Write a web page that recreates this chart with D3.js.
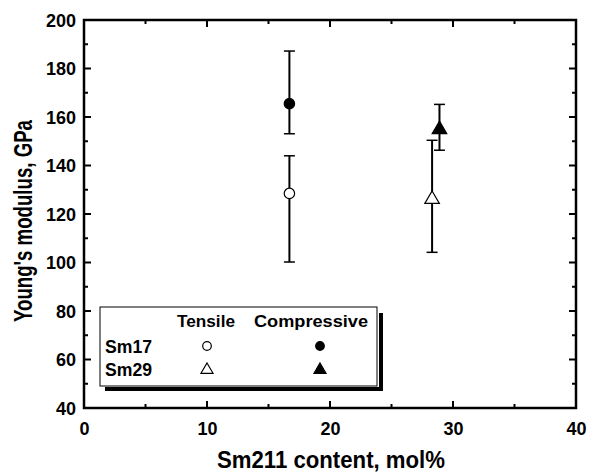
<!DOCTYPE html>
<html><head><meta charset="utf-8">
<script src="https://cdn.jsdelivr.net/npm/d3@7"></script>
<style>body{margin:0;background:#fff}text{font-family:"Liberation Sans",Arial,sans-serif;font-weight:bold;fill:#000}</style>
</head><body><svg id="c" width="601" height="476"></svg>
<script>
const xTicks = [0,10,20,30,40];
const yTicks = [40,60,80,100,120,140,160,180,200];
const seriesNames = ["Sm17 tensile","Sm17 compressive","Sm29 tensile","Sm29 compressive"];
const xVals = [16.7,16.7,28.3,28.9];
const yVals = [128.5,165.5,126.5,155.3];
const yLow = [100.2,153.1,104.2,146.3];
const yHigh = [144,187.2,150.4,165.2];
const shapes = ["circle","circle","triangle","triangle"];
const filled = [false,true,false,true];
const legendRows = ["Sm17","Sm29"];
const legendCols = ["Tensile","Compressive"];

const svg = d3.select("#c");
const L=84,R=576,T=20,B=408;
const x = d3.scaleLinear().domain([0,40]).range([L,R]);
const y = d3.scaleLinear().domain([40,200]).range([B,T]);

const g = svg.append("g");
const xMinor = d3.range(0,40.01,5), yMinor = d3.range(40,200.01,10);
xMinor.forEach(v=>{
  const len = (v%10===0)?7:4;
  g.append("line").attr("x1",x(v)).attr("x2",x(v)).attr("y1",B).attr("y2",B-len).attr("stroke","#000").attr("stroke-width",2);
  g.append("line").attr("x1",x(v)).attr("x2",x(v)).attr("y1",T).attr("y2",T+len).attr("stroke","#000").attr("stroke-width",2);
});
yMinor.forEach(v=>{
  const len = (v%20===0)?7:4;
  g.append("line").attr("y1",y(v)).attr("y2",y(v)).attr("x1",L).attr("x2",L+len).attr("stroke","#000").attr("stroke-width",2);
  g.append("line").attr("y1",y(v)).attr("y2",y(v)).attr("x1",R).attr("x2",R-len).attr("stroke","#000").attr("stroke-width",2);
});
g.append("rect").attr("x",L).attr("y",T).attr("width",R-L).attr("height",B-T).attr("fill","none").attr("stroke","#000").attr("stroke-width",2.5);

const xa = svg.append("g").attr("transform",`translate(0,${B})`).call(d3.axisBottom(x).tickValues(xTicks).tickSize(0).tickPadding(27));
xa.select(".domain").remove();
xa.selectAll("text").attr("font-size",18).attr("font-family","Liberation Sans, Arial").attr("font-weight","bold").attr("dy","0");
const ya = svg.append("g").attr("transform",`translate(${L},0)`).call(d3.axisLeft(y).tickValues(yTicks).tickSize(0).tickPadding(8));
ya.select(".domain").remove();
ya.selectAll("text").attr("font-size",18).attr("font-family","Liberation Sans, Arial").attr("font-weight","bold").attr("dy","0.36em");

svg.append("text").attr("x",331).attr("y",468).attr("text-anchor","middle").attr("font-size",23)
  .attr("textLength",228).attr("lengthAdjust","spacingAndGlyphs").text("Sm211 content, mol%");
svg.append("text").attr("transform",`translate(32,221) rotate(-90)`).attr("text-anchor","middle").attr("font-size",25)
  .attr("textLength",202).attr("lengthAdjust","spacingAndGlyphs").text("Young's modulus, GPa");

const cap = 5.5;
seriesNames.forEach((n,i)=>{
  const cx = x(xVals[i]);
  svg.append("line").attr("x1",cx).attr("x2",cx).attr("y1",y(yLow[i])).attr("y2",y(yHigh[i])).attr("stroke","#000").attr("stroke-width",2);
  [yLow[i],yHigh[i]].forEach(v=>svg.append("line").attr("x1",cx-cap).attr("x2",cx+cap).attr("y1",y(v)).attr("y2",y(v)).attr("stroke","#000").attr("stroke-width",1.5));
});
function marker(sel,shape,fill,cx,cy,s){
  if(shape==="circle") sel.append("circle").attr("cx",cx).attr("cy",cy).attr("r",s).attr("fill",fill?"#000":"#fff").attr("stroke","#000").attr("stroke-width",1.2);
  else sel.append("path").attr("d",`M${cx},${cy-s*1.4}L${cx+s*1.4},${cy+s*1.0}L${cx-s*1.4},${cy+s*1.0}Z`).attr("fill",fill?"#000":"#fff").attr("stroke","#000").attr("stroke-width",1.2);
}
seriesNames.forEach((n,i)=>marker(svg,shapes[i],filled[i],x(xVals[i]),y(yVals[i]),5.2));

const lg = svg.append("g");
lg.append("line").attr("x1",105).attr("x2",383).attr("y1",389).attr("y2",389).attr("stroke","#000").attr("stroke-width",4);
lg.append("line").attr("x1",381).attr("x2",381).attr("y1",313).attr("y2",391).attr("stroke","#000").attr("stroke-width",4);
lg.append("rect").attr("x",100).attr("y",307).attr("width",277).attr("height",79).attr("fill","#fff").attr("stroke","#000").attr("stroke-width",1);
const colX = [206,311];
const colW = [58,114];
legendCols.forEach((c,j)=>lg.append("text").attr("x",colX[j]).attr("y",327).attr("text-anchor","middle").attr("font-size",17)
  .attr("textLength",colW[j]).attr("lengthAdjust","spacingAndGlyphs").text(c));
const rowY = [346,369];
const markX = [207,320];
legendRows.forEach((r,k)=>{
  lg.append("text").attr("x",105).attr("y",rowY[k]+7).attr("font-size",18).attr("textLength",47).attr("lengthAdjust","spacingAndGlyphs").text(r);
  legendCols.forEach((c,j)=>marker(lg,k===0?"circle":"triangle",j===1,markX[j],rowY[k],4.3));
});
</script></body></html>
